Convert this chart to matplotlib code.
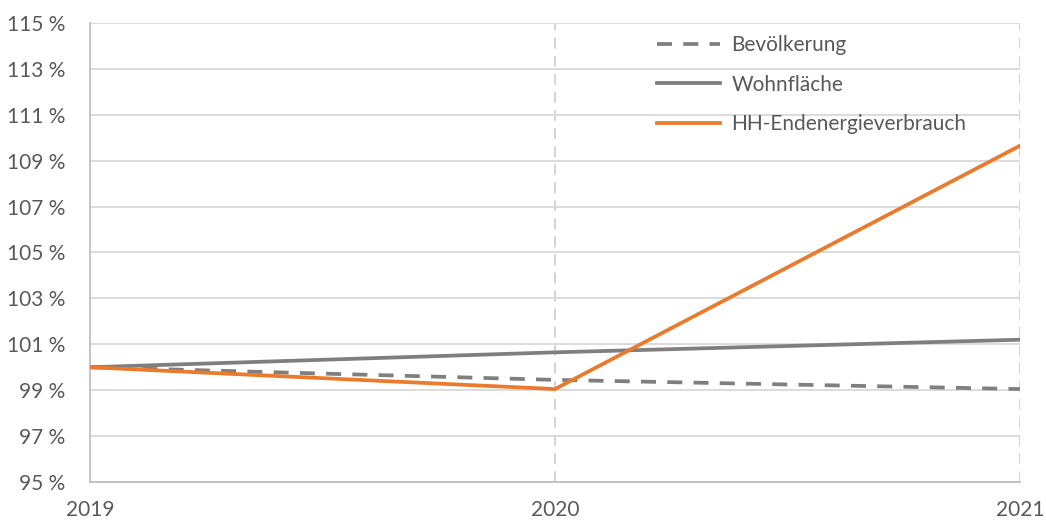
import matplotlib
matplotlib.use('Agg')
import matplotlib.pyplot as plt
from matplotlib.ticker import FuncFormatter

years = [2019, 2020, 2021]
bevoelkerung = [100.0, 99.45, 99.05]
wohnflaeche = [100.0, 100.65, 101.2]
endenergie = [100.0, 99.05, 109.65]
yticks = list(range(95, 116, 2))

plt.rcParams['font.family'] = ['Lato', 'DejaVu Sans']
grey_txt = '#595959'

fig = plt.figure(figsize=(10.46, 5.22), dpi=100)
ax = fig.add_axes([0.086, 0.0766, 0.889, 0.8794])

ax.plot(years, bevoelkerung, color='#7f7f7f', linewidth=2.7, dashes=(4, 3), label='Bevölkerung', zorder=3)
ax.plot(years, wohnflaeche, color='#7f7f7f', linewidth=2.7, label='Wohnfläche', zorder=3)
ax.plot(years, endenergie, color='#eb7a2c', linewidth=2.7, label='HH-Endenergieverbrauch', zorder=4)

ax.set_xlim(2019, 2021)
ax.set_ylim(95, 115)
ax.set_yticks(yticks)
ax.set_xticks(years)
ax.yaxis.set_major_formatter(FuncFormatter(lambda v, p: f'{v:.0f} %'))

# gridlines
ax.grid(axis='y', color='#d9d9d9', linewidth=1.3, zorder=0)
for x in years[1:]:
    ax.axvline(x, color='#d0d0d0', linewidth=1.3, dashes=(6, 4), zorder=1)

for s in ['top', 'right']:
    ax.spines[s].set_visible(False)
for s in ['left', 'bottom']:
    ax.spines[s].set_color('#bfbfbf')
    ax.spines[s].set_linewidth(1.3)

ax.tick_params(axis='both', length=0, labelsize=15, colors=grey_txt)
ax.tick_params(axis='y', pad=18)
ax.tick_params(axis='x', pad=13)

leg = ax.legend(loc='upper left', bbox_to_anchor=(0.59, 1.015), frameon=False,
                fontsize=15, handlelength=3.0, handletextpad=0.55, labelspacing=0.95)
for t in leg.get_texts():
    t.set_color(grey_txt)

fig.savefig('out.png', dpi=100)
